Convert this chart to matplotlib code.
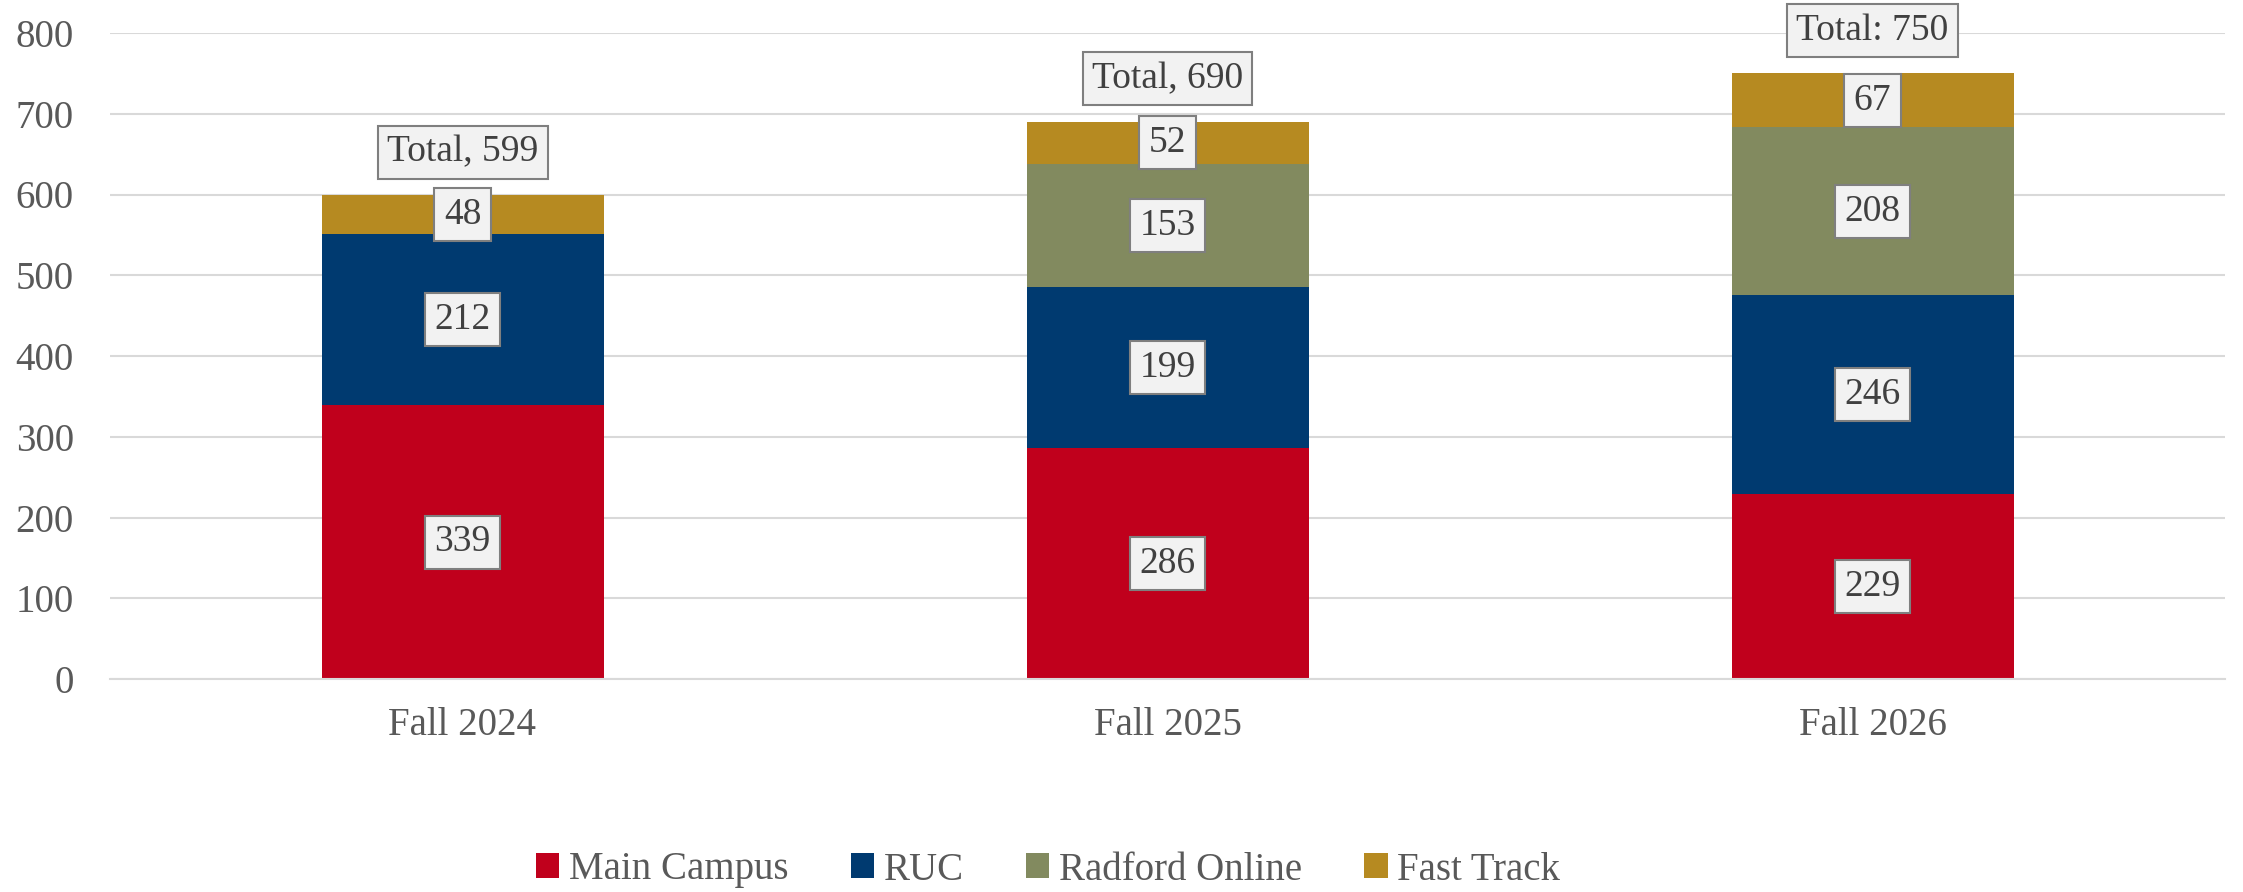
import matplotlib
matplotlib.use("Agg")
from matplotlib import pyplot as plt
import numpy as np

plt.rcParams['font.family'] = ['Liberation Serif', 'DejaVu Serif']

terms = ['Fall 2024', 'Fall 2025', 'Fall 2026']
series = ['Main Campus', 'RUC', 'Radford Online', 'Fast Track']
main_campus = [339, 286, 229]
ruc = [212, 199, 246]
radford_online = [0, 153, 208]
fast_track = [48, 52, 67]
totals = [599, 690, 750]
total_labels = ['Total, 599', 'Total, 690', 'Total: 750']

colors = ['#C0001C', '#003A70', '#828A5F', '#B68A21']
text_col = '#404040'
box = dict(boxstyle='square,pad=0.25', fc='#F2F2F2', ec='#7F7F7F', lw=1.5)

fig = plt.figure(figsize=(22.43, 8.92), dpi=100)
ax = fig.add_axes([110/2243, 1 - 679/892, 2115/2243, 646/892])

x = np.arange(len(terms))
bottom = np.zeros(len(terms))
for name, vals, c in zip(series, [main_campus, ruc, radford_online, fast_track], colors):
    vals = np.array(vals, dtype=float)
    ax.bar(x, vals, 0.4, bottom=bottom, color=c, label=name, zorder=2)
    for i, v in enumerate(vals):
        if v > 0:
            ax.text(x[i], bottom[i] + v / 2, str(int(v)), ha='center', va='center',
                    fontsize=27, color=text_col, bbox=box, zorder=4)
    bottom += vals

for i, (t, lab) in enumerate(zip(totals, total_labels)):
    ax.annotate(lab, (x[i], t), xytext=(0, 31), textcoords='offset points',
                ha='center', va='center', fontsize=27, color=text_col, bbox=box, zorder=4)

ax.set_xlim(-0.5, 2.5)
ax.set_ylim(0, 800)
ax.set_yticks(range(0, 801, 100))
ax.set_xticks(x)
ax.set_xticklabels(terms)
ax.yaxis.grid(True, color='#D9D9D9', lw=1.5, zorder=0)
ax.set_axisbelow(True)
for s in ['top', 'right', 'left']:
    ax.spines[s].set_visible(False)
ax.spines['bottom'].set_color('#D9D9D9')
ax.spines['bottom'].set_linewidth(1.5)
ax.tick_params(axis='both', length=0, labelsize=28, colors='#595959')
ax.tick_params(axis='x', pad=20)
ax.tick_params(axis='y', pad=26)

fig.legend(loc='center', bbox_to_anchor=(1048/2243, 1 - 870/892), ncol=4, frameon=False,
           fontsize=28, handlelength=0.6, handleheight=0.6, handletextpad=0.25,
           columnspacing=1.6, labelcolor='#595959')

fig.savefig('out.png', dpi=100)
